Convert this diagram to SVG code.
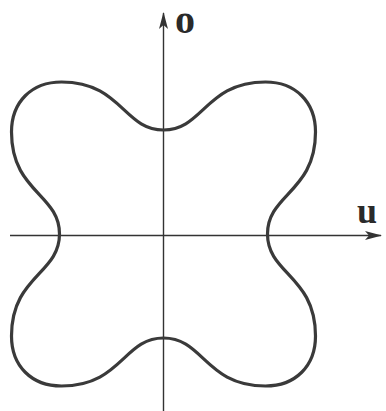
<svg xmlns="http://www.w3.org/2000/svg" width="386" height="411" viewBox="0 0 386 411">
<style>
.axis{stroke:#333;stroke-width:1.4;fill:none}
.curve{stroke:#3a3a3a;stroke-width:3.2;fill:none}
.lbl{font-family:"Liberation Serif",serif;font-weight:bold;fill:#2a2a2a}
</style>
<defs>
<marker id="ah" markerWidth="18" markerHeight="10" refX="16" refY="5" orient="auto" markerUnits="userSpaceOnUse">
<path d="M0,0.5 L17,5 L0,9.5 L4,5 Z" fill="#333"/>
</marker>
</defs>
<rect width="386" height="411" fill="#fff"/>
<g id="axes">
<line class="axis" x1="163.5" y1="411" x2="163.5" y2="13" marker-end="url(#ah)"/>
<line class="axis" x1="10" y1="235.5" x2="381" y2="235.5" marker-end="url(#ah)"/>
</g>
<g id="curve">
<path class="curve" transform="translate(163.5,234) scale(1,-1)" d="M0,104 C40,104 42,152 102,152 C132,152 152,132 152,102 C152,42 104,40 104,0 C104,-40 152,-42 152,-102 C152,-132 132,-152 102,-152 C42,-152 40,-104 0,-104 C-40,-104 -42,-152 -102,-152 C-132,-152 -152,-132 -152,-102 C-152,-42 -104,-40 -104,0 C-104,40 -152,42 -152,102 C-152,132 -132,152 -102,152 C-42,152 -40,104 0,104 Z"/>
</g>
<g id="labels">
<text class="lbl" x="175" y="33" font-size="40">o</text>
<text class="lbl" x="357" y="223" font-size="36">u</text>
</g>
</svg>
